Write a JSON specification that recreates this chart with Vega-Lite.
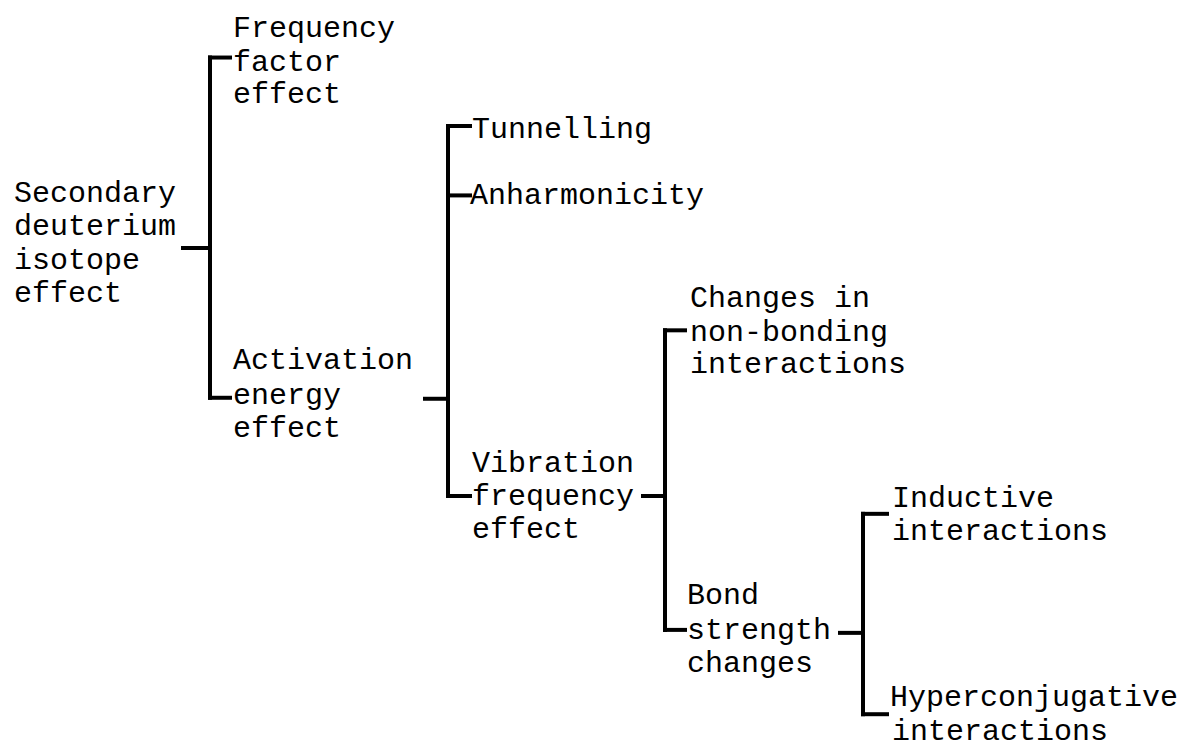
{
  "$schema": "https://vega.github.io/schema/vega-lite/v6.json",
  "width": 1186,
  "height": 746,
  "autosize": {"type": "fit", "contains": "padding"},
  "padding": 0,
  "background": "white",
  "config": {"view": {"stroke": null}},
  "datasets": {
    "segments": [
      {"x": 210, "x2": 210, "y": 58, "y2": 401},
      {"x": 210, "x2": 230, "y": 58, "y2": 58},
      {"x": 210, "x2": 230, "y": 401, "y2": 401},
      {"x": 183, "x2": 210, "y": 250, "y2": 250},
      {"x": 425, "x2": 448, "y": 402, "y2": 402},
      {"x": 448, "x2": 448, "y": 127, "y2": 500},
      {"x": 448, "x2": 470, "y": 127, "y2": 127},
      {"x": 448, "x2": 470, "y": 197, "y2": 197},
      {"x": 448, "x2": 470, "y": 500, "y2": 500},
      {"x": 643, "x2": 665, "y": 500, "y2": 500},
      {"x": 665, "x2": 665, "y": 333, "y2": 635},
      {"x": 665, "x2": 685, "y": 333, "y2": 333},
      {"x": 665, "x2": 685, "y": 635, "y2": 635},
      {"x": 840, "x2": 863, "y": 638, "y2": 638},
      {"x": 863, "x2": 863, "y": 518, "y2": 720},
      {"x": 863, "x2": 887, "y": 518, "y2": 518},
      {"x": 863, "x2": 887, "y": 720, "y2": 720}
    ],
    "labels": [
      {"label": "Secondary", "x": 14, "y": 195},
      {"label": "deuterium", "x": 14, "y": 228},
      {"label": "isotope", "x": 14, "y": 262},
      {"label": "effect", "x": 14, "y": 295},
      {"label": "Frequency", "x": 233, "y": 28},
      {"label": "factor", "x": 233, "y": 62},
      {"label": "effect", "x": 233, "y": 95},
      {"label": "Activation", "x": 233, "y": 363},
      {"label": "energy", "x": 233, "y": 398},
      {"label": "effect", "x": 233, "y": 431},
      {"label": "Tunnelling", "x": 472, "y": 130},
      {"label": "Anharmonicity", "x": 470, "y": 197},
      {"label": "Vibration", "x": 472, "y": 467},
      {"label": "frequency", "x": 472, "y": 500},
      {"label": "effect", "x": 472, "y": 533},
      {"label": "Changes in", "x": 690, "y": 300},
      {"label": "non-bonding", "x": 690, "y": 335},
      {"label": "interactions", "x": 690, "y": 367},
      {"label": "Bond", "x": 687, "y": 600},
      {"label": "strength", "x": 687, "y": 635},
      {"label": "changes", "x": 687, "y": 668},
      {"label": "Inductive", "x": 892, "y": 502},
      {"label": "interactions", "x": 892, "y": 535},
      {"label": "Hyperconjugative", "x": 890, "y": 703},
      {"label": "interactions", "x": 892, "y": 737}
    ]
  },
  "layer": [
    {
      "data": {"name": "segments"},
      "mark": {"type": "rule", "color": "black", "strokeWidth": 4, "strokeCap": "square"},
      "encoding": {
        "x": {"field": "x", "type": "quantitative", "scale": {"domain": [0, 1186], "nice": false, "zero": false}, "axis": null},
        "x2": {"field": "x2"},
        "y": {"field": "y", "type": "quantitative", "scale": {"domain": [0, 746], "nice": false, "zero": false, "reverse": true}, "axis": null},
        "y2": {"field": "y2"}
      }
    },
    {
      "data": {"name": "labels"},
      "mark": {"type": "text", "align": "left", "baseline": "middle", "font": "Liberation Mono", "fontSize": 30, "color": "black"},
      "encoding": {
        "x": {"field": "x", "type": "quantitative", "scale": {"domain": [0, 1186], "nice": false, "zero": false}, "axis": null},
        "y": {"field": "y", "type": "quantitative", "scale": {"domain": [0, 746], "nice": false, "zero": false, "reverse": true}, "axis": null},
        "text": {"field": "label"}
      }
    }
  ]
}
